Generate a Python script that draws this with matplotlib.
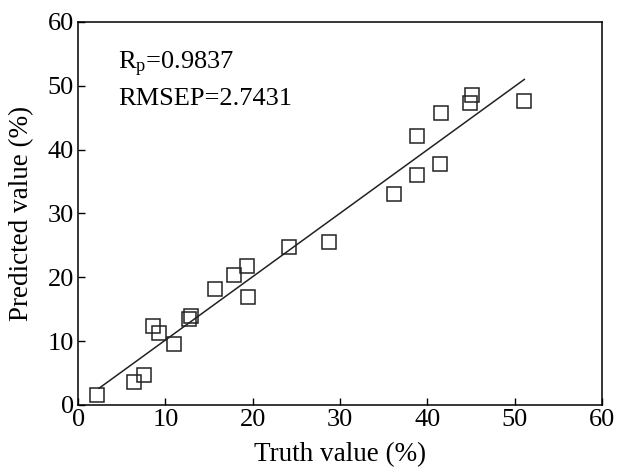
import numpy as np
import matplotlib
matplotlib.use('Agg')
import matplotlib.pyplot as plt

plt.rcParams['font.family'] = ['Liberation Serif', 'DejaVu Serif']
plt.rcParams['mathtext.fontset'] = 'custom'
plt.rcParams['mathtext.rm'] = 'Liberation Serif'
plt.rcParams['mathtext.it'] = 'Liberation Serif'

truth = [2.2, 6.4, 7.6, 8.6, 9.3, 11.0, 12.7, 12.9, 15.7, 17.9, 19.3, 19.5,
         24.2, 28.7, 36.2, 38.8, 38.8, 41.5, 41.6, 44.9, 45.1, 51.1]
predicted = [1.5, 3.6, 4.7, 12.3, 11.2, 9.5, 13.5, 13.9, 18.1, 20.3, 21.8, 16.9,
             24.8, 25.5, 33.0, 36.0, 42.2, 37.8, 45.7, 47.3, 48.6, 47.6]

# regression line end points
line_x = [2.4, 51.1]
line_y = [2.6, 51.0]

rp = 0.9837
rmsep = 2.7431

fig = plt.figure(figsize=(6.2, 4.68), dpi=100)
ax = fig.add_axes([0.126, 0.135, 0.845, 0.818])

ax.plot(line_x, line_y, color='#222222', lw=1.1)
ax.plot(truth, predicted, 's', ms=9.5, mfc='none', mec='#222222', mew=1.1)

ax.set_xlim(0, 60)
ax.set_ylim(0, 60)
ax.set_xticks(np.arange(0, 61, 10))
ax.set_yticks(np.arange(0, 61, 10))
ax.tick_params(direction='in', length=5, width=1, labelsize=19, pad=3)
for s in ax.spines.values():
    s.set_linewidth(1.1)

ax.set_xlabel('Truth value (%)', fontsize=19.5, va='center')
ax.set_ylabel('Predicted value (%)', fontsize=19.5, va='center')
ax.xaxis.set_label_coords(0.5, -0.13)
ax.yaxis.set_label_coords(-0.107, 0.5)

ax.text(4.6, 53.3, r'R$_{\rm p}$=%.4f' % rp, fontsize=19, va='center')
ax.text(4.6, 48.0, 'RMSEP=%.4f' % rmsep, fontsize=19, va='center')

fig.savefig('out.png', dpi=100)
